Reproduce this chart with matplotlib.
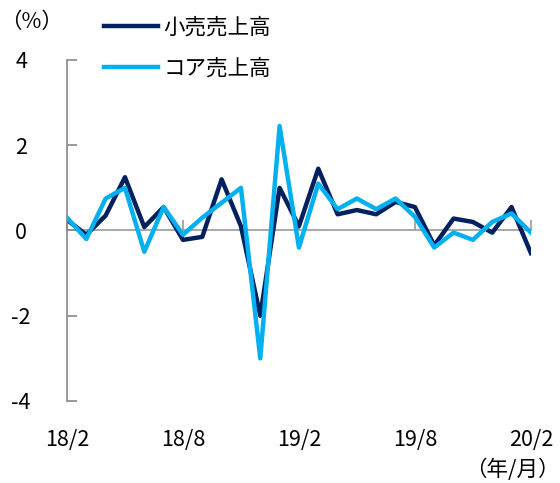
import matplotlib.pyplot as plt

plt.rcParams['font.family'] = ['Noto Sans CJK JP', 'DejaVu Sans']

# monthly, 18/2 .. 20/2
months = list(range(25))
tick_pos = [0, 6, 12, 18, 24]
tick_labels = ["18/2", "18/8", "19/2", "19/8", "20/2"]

retail = [0.25, -0.1, 0.35, 1.25, 0.08, 0.55, -0.22, -0.15, 1.2, 0.1,
          -2.0, 1.0, 0.1, 1.45, 0.38, 0.48, 0.38, 0.67, 0.55, -0.35,
          0.28, 0.2, -0.05, 0.55, -0.53]
core = [0.3, -0.2, 0.75, 1.0, -0.5, 0.55, -0.1, 0.3, 0.65, 1.0,
        -3.0, 2.45, -0.4, 1.1, 0.5, 0.75, 0.5, 0.75, 0.32, -0.4,
        -0.05, -0.22, 0.2, 0.4, -0.05]

FS = 15.5

fig = plt.figure(figsize=(5.6, 4.83), dpi=100)
ax = fig.add_axes([0.1196, 0.1698, 0.8284, 0.706])

ax.plot(months, retail, color="#002060", lw=3.2, label="小売売上高")
ax.plot(months, core, color="#00B0F0", lw=3.2, label="コア売上高")

ax.set_xlim(0, 24)
ax.set_ylim(-4, 4)
ax.set_yticks([-4, -2, 0, 2, 4])
ax.set_yticklabels(["-4", "-2", "0", "2", "4"])

for s in ["top", "right"]:
    ax.spines[s].set_visible(False)
ax.spines["left"].set_color("#888888")
ax.spines["left"].set_linewidth(1.2)
ax.spines["bottom"].set_position(("data", 0))
ax.spines["bottom"].set_color("#999999")
ax.spines["bottom"].set_linewidth(1.2)
ax.spines["bottom"].set_zorder(0)

ax.set_xticks(tick_pos)
ax.tick_params(axis="x", direction="in", length=7, color="#999999",
               width=1.2, labelbottom=False)
ax.tick_params(axis="y", direction="in", length=7, color="#888888",
               width=1.2, labelsize=FS, pad=33)
for t in ax.get_yticklabels():
    t.set_horizontalalignment("center")

sec = ax.secondary_xaxis(location=0)
sec.set_xticks(tick_pos)
sec.set_xticklabels(tick_labels)
sec.spines["bottom"].set_visible(False)
sec.tick_params(length=0, labelsize=FS, pad=20)

ax.legend(loc="upper left", bbox_to_anchor=(0.178, 0.975), bbox_transform=fig.transFigure,
          frameon=False, fontsize=FS, handlelength=2.5, handletextpad=0.25,
          labelspacing=0.88, borderpad=0.2, borderaxespad=0)

fig.text(0.0, 0.955, "（%）", fontsize=FS, va="center")
fig.text(1.0, 0.028, "（年/月）", fontsize=FS, va="center", ha="right")

fig.savefig("out.png", dpi=100)
